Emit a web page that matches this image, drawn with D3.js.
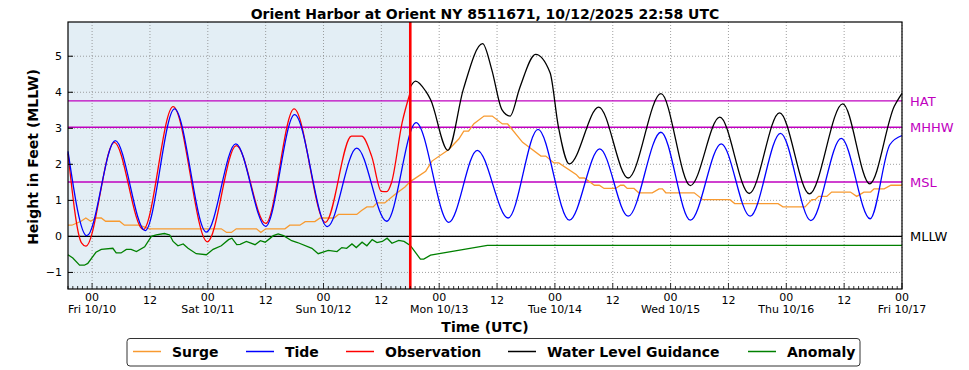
<!DOCTYPE html>
<html>
<head>
<meta charset="utf-8">
<script src="https://cdn.jsdelivr.net/npm/d3@7"></script>
<style>
  body { margin: 0; background: #fff; }
  text { font-family: "DejaVu Sans", sans-serif; }
</style>
</head>
<body>
<div id="chart"></div>
<script>
// hours are counted from Fri 10/10 00:00 UTC
const base = Date.UTC(2025, 9, 10, 0);
const startHour = -5;
const endHour = 168;
const nowHour = 66;

const datums = [
  { name: "HAT", value: 3.76, color: "#bf00bf" },
  { name: "MHHW", value: 3.03, color: "#bf00bf" },
  { name: "MSL", value: 1.51, color: "#bf00bf" },
  { name: "MLLW", value: 0, color: "#000000" }
];

const tide = [
  [-5, 2.36], [-1.1, 0.02], [4.8, 2.66], [11.0, 0.16], [17.1, 3.54], [23.7, 0.12],
  [29.8, 2.57], [36.0, 0.28], [42.0, 3.38], [48.8, 0.27], [54.9, 2.45], [61.1, 0.42],
  [67.2, 3.16], [74.0, 0.39], [79.9, 2.39], [86.3, 0.51], [92.5, 2.97], [99.0, 0.45],
  [105.3, 2.43], [111.2, 0.56], [118.0, 2.89], [124.1, 0.45], [130.5, 2.57], [136.5, 0.56],
  [142.8, 2.86], [149.1, 0.44], [155.4, 2.72], [161.4, 0.49], [165.5, 2.55], [168, 2.8]
];

const observation = [
  [-5, 2.3], [-2.2, -0.18], [-1.3, -0.27], [4.6, 2.61], [10.6, 0.19], [16.8, 3.6],
  [23.9, -0.15], [29.9, 2.52], [36.0, 0.36], [41.9, 3.54], [48.4, 0.39], [53.8, 2.78],
  [55.9, 2.78], [58.0, 2.22], [60.0, 1.25], [61.1, 1.24], [62.1, 1.49], [64.3, 3.15], [66, 4.0]
];

const guidance = [
  [66, 4.15], [67.1, 4.31], [69.2, 4.03], [70.2, 3.8], [73.8, 2.39], [77.0, 4.08],
  [81.0, 5.35], [82.9, 4.63], [85.0, 3.52], [86.7, 3.34], [88.7, 4.12], [92.0, 5.05],
  [95.0, 4.54], [96.7, 3.06], [99.0, 2.01], [105.1, 3.59], [111.2, 1.62], [118.0, 3.96],
  [124.1, 1.41], [130.2, 3.31], [136.3, 1.19], [142.6, 3.43], [148.8, 1.18], [155.7, 3.68],
  [161.3, 1.46], [166.4, 3.61], [168, 3.97]
];

const surge = [
  [-5, 0.31], [-4.2, 0.31], [-2.3, 0.42], [-1.3, 0.51], [-0.3, 0.42], [0.8, 0.51],
  [1.9, 0.51], [2.8, 0.42], [5.7, 0.42], [6.7, 0.31], [9.8, 0.31], [11.9, 0.21],
  [26.8, 0.21], [27.9, 0.11], [28.9, 0.11], [29.9, 0.21], [34.1, 0.21], [35.0, 0.11],
  [36.0, 0.21], [40.0, 0.21], [41.0, 0.31], [43.1, 0.31], [44.2, 0.41], [46.2, 0.41],
  [47.3, 0.51], [50.2, 0.51], [51.1, 0.61], [54.9, 0.61], [55.9, 0.72], [57.0, 0.82],
  [58.3, 0.82], [59.1, 0.93], [60.7, 0.93], [62.8, 1.16], [64.9, 1.37], [66, 1.52],
  [69.2, 1.81], [70.5, 2.09], [74, 2.41], [76.1, 2.71], [77.1, 2.92], [78.1, 2.92],
  [79.2, 3.13], [81.3, 3.34], [83.0, 3.34], [85.1, 3.12], [86.2, 3.12], [89.3, 2.61],
  [93.1, 2.23], [94.1, 2.23], [95.8, 2.04], [96.8, 2.04], [100.4, 1.72], [101.1, 1.62],
  [102.1, 1.62], [104.2, 1.42], [105.2, 1.42], [106.2, 1.33], [108.6, 1.33], [109.6, 1.42],
  [110.3, 1.42], [111.0, 1.33], [112.4, 1.33], [113.4, 1.21], [116.2, 1.21], [117.6, 1.32],
  [118.3, 1.32], [119.0, 1.21], [124.9, 1.21], [126.7, 1.02], [132.3, 1.02], [133.3, 0.91],
  [142.3, 0.91], [143.3, 0.82], [147.9, 0.82], [149.3, 1.02], [150.0, 1.02], [150.7, 1.11],
  [152.4, 1.11], [153.4, 1.23], [157.3, 1.23], [158.6, 1.11], [160.1, 1.23], [161.5, 1.23],
  [162.2, 1.32], [164.3, 1.32], [165.7, 1.42], [168, 1.42]
];

const anomaly = [
  [-5, -0.51], [-4.0, -0.6], [-2.6, -0.8], [-1.6, -0.8], [-0.9, -0.75], [0.8, -0.44],
  [1.9, -0.36], [4.3, -0.33], [5.0, -0.46], [6.0, -0.46], [7.1, -0.36], [8.1, -0.36],
  [9.2, -0.42], [10.9, -0.29], [12.3, 0.0], [13.3, 0.04], [15.0, 0.08], [16.1, 0.04],
  [16.8, -0.14], [17.8, -0.26], [18.9, -0.21], [19.9, -0.33], [21.6, -0.48], [23.7, -0.51],
  [25.1, -0.36], [26.8, -0.26], [28.3, -0.09], [29.0, -0.05], [30.0, -0.23], [30.7, -0.22],
  [32.0, -0.14], [33.8, -0.23], [34.9, -0.12], [35.9, -0.16], [37.6, 0.02], [38.6, 0.07],
  [39.7, 0.02], [41.4, -0.12], [42.6, -0.17], [45.6, -0.33], [46.9, -0.48], [49.0, -0.39],
  [50.8, -0.42], [51.8, -0.31], [52.8, -0.33], [53.9, -0.21], [54.8, -0.31], [56.0, -0.16],
  [57.0, -0.26], [58.1, -0.09], [59.1, -0.17], [60.2, -0.14], [61.2, -0.05], [62.2, -0.19],
  [63.6, -0.11], [64.7, -0.14], [66.0, -0.25], [68.1, -0.63], [68.8, -0.63], [70.2, -0.52],
  [82.0, -0.25], [168, -0.25]
];

const yTicks = [-1, 0, 1, 2, 3, 4, 5];
const dayNames = ["Sun", "Mon", "Tue", "Wed", "Thu", "Fri", "Sat"];

const legendItems = [
  { name: "Surge", color: "#f89a30" },
  { name: "Tide", color: "#0000ff" },
  { name: "Observation", color: "#ff0000" },
  { name: "Water Level Guidance", color: "#000000" },
  { name: "Anomaly", color: "#008000" }
];

const W = 969, H = 370;
const mLeft = 68, mRight = 902, mTop = 22, mBottom = 289;

const hourToDate = h => new Date(base + h * 3600e3);

const x = d3.scaleUtc()
  .domain([hourToDate(startHour), hourToDate(endHour)])
  .range([mLeft, mRight]);
const y = d3.scaleLinear()
  .domain([-1.46, 5.95])
  .range([mBottom, mTop]);

const svg = d3.select("#chart").append("svg")
  .attr("width", W)
  .attr("height", H);

// observed period shading
svg.append("rect")
  .attr("x", mLeft)
  .attr("y", mTop)
  .attr("width", x(hourToDate(nowHour)) - mLeft)
  .attr("height", mBottom - mTop)
  .attr("fill", "#e3eef5");

// grid
const majorTimes = d3.utcHour.every(12).range(hourToDate(startHour), hourToDate(endHour + 0.01));
svg.append("g")
  .selectAll("line")
  .data(majorTimes)
  .join("line")
  .attr("x1", d => x(d)).attr("x2", d => x(d))
  .attr("y1", mTop).attr("y2", mBottom)
  .attr("stroke", "#888")
  .attr("stroke-width", 0.8)
  .attr("stroke-dasharray", "1,2");

svg.append("g")
  .selectAll("line")
  .data(yTicks)
  .join("line")
  .attr("x1", mLeft).attr("x2", mRight)
  .attr("y1", d => y(d)).attr("y2", d => y(d))
  .attr("stroke", "#888")
  .attr("stroke-width", 0.8)
  .attr("stroke-dasharray", "1,2");

// datum lines
svg.append("g")
  .selectAll("line")
  .data(datums)
  .join("line")
  .attr("x1", mLeft).attr("x2", mRight)
  .attr("y1", d => y(d.value)).attr("y2", d => y(d.value))
  .attr("stroke", d => d.color)
  .attr("stroke-width", d => d.name == "MLLW" ? 1.2 : 1.4);

svg.append("g")
  .selectAll("text")
  .data(datums)
  .join("text")
  .attr("x", 910)
  .attr("y", d => y(d.value) + 5)
  .attr("font-size", 13)
  .attr("fill", d => d.color)
  .text(d => d.name);

// series
const smooth = d3.line()
  .x(d => x(hourToDate(d[0])))
  .y(d => y(d[1]))
  .curve(d3.curveMonotoneX);
const straight = d3.line()
  .x(d => x(hourToDate(d[0])))
  .y(d => y(d[1]));

const plot = svg.append("g");
plot.append("path").datum(anomaly)
  .attr("d", straight).attr("fill", "none")
  .attr("stroke", "#008000").attr("stroke-width", 1.3);
plot.append("path").datum(surge)
  .attr("d", straight).attr("fill", "none")
  .attr("stroke", "#f89a30").attr("stroke-width", 1.3);
plot.append("path").datum(observation)
  .attr("d", smooth).attr("fill", "none")
  .attr("stroke", "#ff0000").attr("stroke-width", 1.3);
plot.append("path").datum(tide)
  .attr("d", smooth).attr("fill", "none")
  .attr("stroke", "#0000ff").attr("stroke-width", 1.3);
plot.append("path").datum(guidance)
  .attr("d", smooth).attr("fill", "none")
  .attr("stroke", "#000000").attr("stroke-width", 1.3);

// now line
svg.append("line")
  .attr("x1", x(hourToDate(nowHour))).attr("x2", x(hourToDate(nowHour)))
  .attr("y1", mTop).attr("y2", mBottom)
  .attr("stroke", "#ff0000")
  .attr("stroke-width", 2.6);

// ticks
const hourTimes = d3.utcHour.every(1).range(hourToDate(startHour), hourToDate(endHour + 0.01));
svg.append("g")
  .selectAll("line")
  .data(hourTimes)
  .join("line")
  .attr("x1", d => x(d)).attr("x2", d => x(d))
  .attr("y1", mBottom)
  .attr("y2", d => d.getUTCHours() % 12 == 0 ? mBottom - 6 : mBottom - 3)
  .attr("stroke", "#000")
  .attr("stroke-width", 0.8);

svg.append("g")
  .selectAll("line")
  .data(yTicks)
  .join("line")
  .attr("x1", mLeft).attr("x2", mLeft + 5)
  .attr("y1", d => y(d)).attr("y2", d => y(d))
  .attr("stroke", "#000");

svg.append("rect")
  .attr("x", mLeft).attr("y", mTop)
  .attr("width", mRight - mLeft).attr("height", mBottom - mTop)
  .attr("fill", "none")
  .attr("stroke", "#000")
  .attr("stroke-width", 1.2);

// tick labels
const xLabels = svg.append("g").attr("font-size", 11).attr("text-anchor", "middle");
majorTimes.forEach(d => {
  const hr = d.getUTCHours();
  if (hr == 0) {
    xLabels.append("text").attr("x", x(d)).attr("y", 301).text("00");
    xLabels.append("text").attr("x", x(d)).attr("y", 313)
      .text(dayNames[d.getUTCDay()] + " " + (d.getUTCMonth() + 1) + "/" + d.getUTCDate());
  } else {
    xLabels.append("text").attr("x", x(d)).attr("y", 303.5).text("12");
  }
});

svg.append("g")
  .attr("font-size", 11)
  .attr("text-anchor", "end")
  .selectAll("text")
  .data(yTicks)
  .join("text")
  .attr("x", 62)
  .attr("y", d => y(d) + 4)
  .text(d => d < 0 ? "\u2212" + Math.abs(d) : d);

// titles
svg.append("text")
  .attr("x", (mLeft + mRight) / 2).attr("y", 18.5)
  .attr("text-anchor", "middle")
  .attr("font-size", 14).attr("font-weight", "bold")
  .text("Orient Harbor at Orient NY 8511671, 10/12/2025 22:58 UTC");

svg.append("text")
  .attr("transform", "translate(38," + 157 + ") rotate(-90)")
  .attr("text-anchor", "middle")
  .attr("font-size", 14).attr("font-weight", "bold")
  .text("Height in Feet (MLLW)");

svg.append("text")
  .attr("x", (mLeft + mRight) / 2).attr("y", 332)
  .attr("text-anchor", "middle")
  .attr("font-size", 14).attr("font-weight", "bold")
  .text("Time (UTC)");

// legend
const legend = svg.append("g");
legend.append("rect")
  .attr("x", 127).attr("y", 338.5)
  .attr("width", 733).attr("height", 27.5)
  .attr("rx", 3)
  .attr("fill", "#fff")
  .attr("stroke", "#333")
  .attr("stroke-width", 1);

const legendX = [133, 246, 346, 508, 748];
legendItems.forEach((item, i) => {
  const g = legend.append("g").attr("transform", "translate(" + legendX[i] + ",0)");
  g.append("line")
    .attr("x1", 0).attr("x2", 28)
    .attr("y1", 351.5).attr("y2", 351.5)
    .attr("stroke", item.color)
    .attr("stroke-width", 1.5);
  g.append("text")
    .attr("x", 39).attr("y", 357)
    .attr("font-size", 14).attr("font-weight", "bold")
    .text(item.name);
});
</script>
</body>
</html>
